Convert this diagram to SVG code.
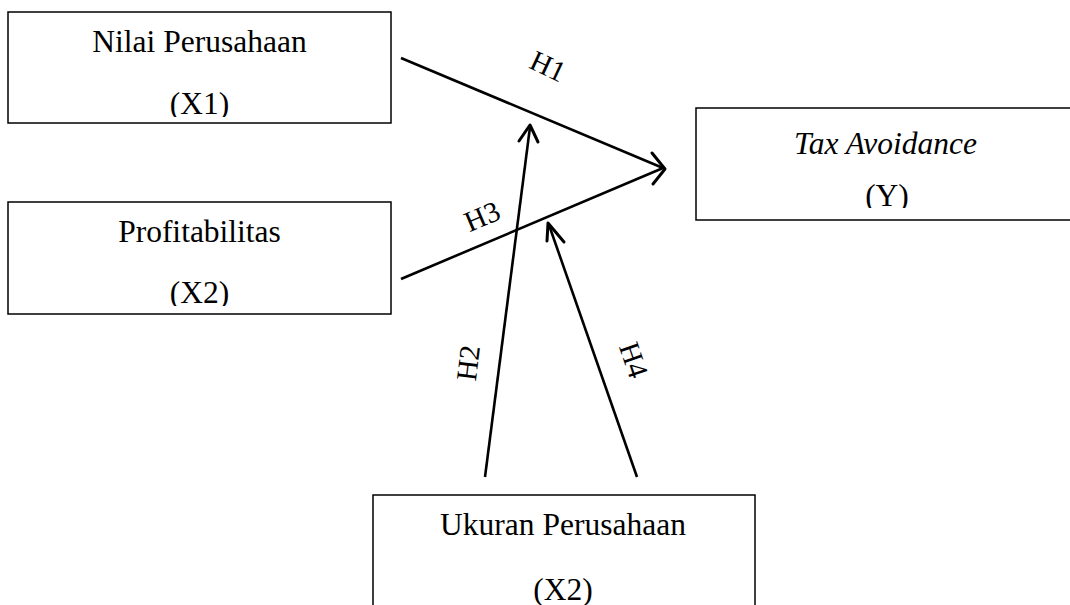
<svg xmlns="http://www.w3.org/2000/svg" width="1070" height="605" viewBox="0 0 1070 605">
<style>
.box{fill:#fff;stroke:#000;stroke-width:1.5}
.t{font-family:"Liberation Serif","Times New Roman",serif;font-size:31.5px;fill:#000;text-anchor:middle}
.it{font-style:italic}
.lbl{font-family:"Liberation Serif","Times New Roman",serif;font-size:29px;fill:#000;text-anchor:middle;dominant-baseline:central}
.ln{stroke:#000;stroke-width:2.6;fill:none}
.hd{stroke:#000;stroke-width:3;fill:none;stroke-linecap:round;stroke-linejoin:round}
</style>
<defs>
<clipPath id="c1"><rect x="8" y="12" width="383" height="105"/></clipPath>
<clipPath id="c2"><rect x="8" y="202" width="383" height="104"/></clipPath>
<clipPath id="cy"><rect x="696" y="108" width="374" height="100"/></clipPath>
</defs>
<rect width="1070" height="605" fill="#fff"/>
<g id="nilai">
<rect class="box" x="8" y="12" width="383" height="111"/>
<g clip-path="url(#c1)">
<text class="t" x="199.5" y="52">Nilai Perusahaan</text>
<text class="t" x="199.5" y="114">(X1)</text>
</g>
</g>
<g id="profit">
<rect class="box" x="8" y="202" width="383" height="112"/>
<g clip-path="url(#c2)">
<text class="t" x="199.5" y="242">Profitabilitas</text>
<text class="t" x="199.5" y="303">(X2)</text>
</g>
</g>
<g id="tax">
<rect class="box" x="696" y="108" width="390" height="112"/>
<g clip-path="url(#cy)">
<text class="t it" x="885.5" y="154">Tax Avoidance</text>
<text class="t" x="887" y="206">(Y)</text>
</g>
</g>
<g id="ukuran">
<rect class="box" x="373" y="495" width="382" height="130"/>
<text class="t" x="563" y="535">Ukuran Perusahaan</text>
<text class="t" x="563" y="600">(X2)</text>
</g>
<g id="connectors">
<line class="ln" x1="401" y1="58" x2="663" y2="168"/>
<line class="ln" x1="401" y1="279" x2="663" y2="168"/>
<polyline class="hd" points="652,153 665,169 653,184"/>
<line class="ln" x1="485" y1="477" x2="530" y2="127"/>
<polyline class="hd" points="519,141 530,125 538,142"/>
<line class="ln" x1="637" y1="477" x2="549" y2="225"/>
<polyline class="hd" points="547,241 548,223 564,242"/>
<text class="lbl" transform="translate(548,66) rotate(25)">H1</text>
<text class="lbl" transform="translate(482,216) rotate(-23)">H3</text>
<text class="lbl" transform="translate(468,363) rotate(-83)">H2</text>
<text class="lbl" transform="translate(634,360) rotate(71)">H4</text>
</g>
</svg>
